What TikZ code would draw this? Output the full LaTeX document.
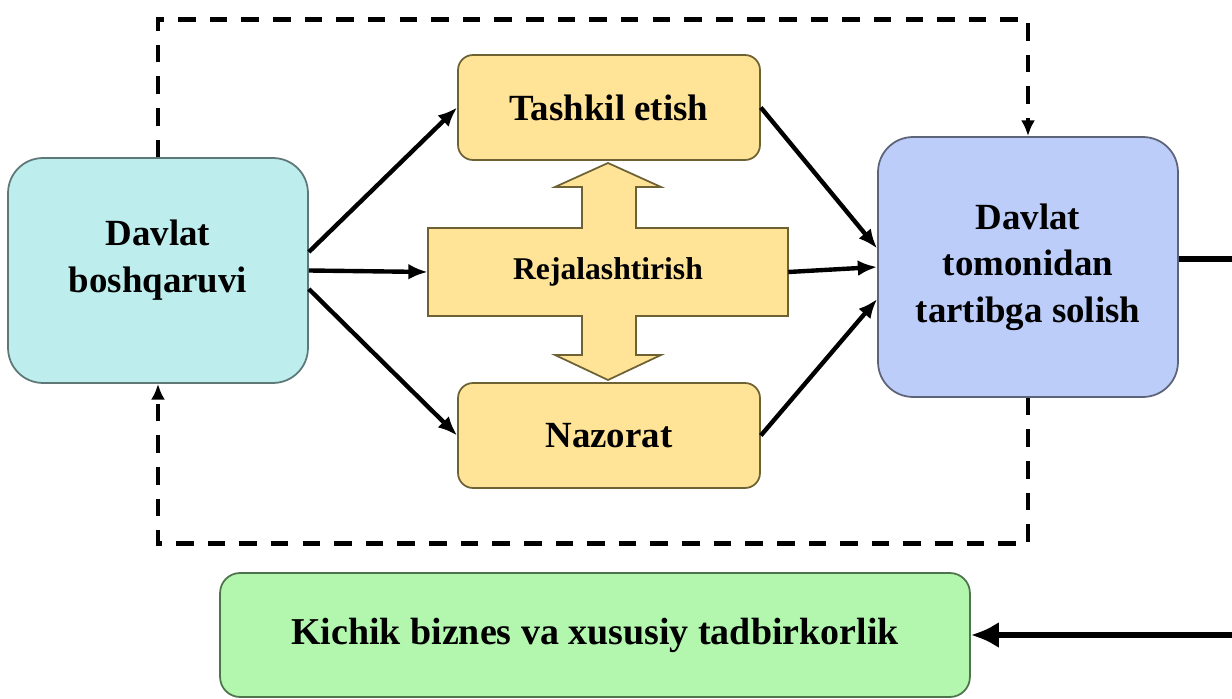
\documentclass[tikz,border=0pt]{standalone}
\usepackage{fontspec}
\setmainfont{Liberation Serif}
\usepackage{tikz}
\usetikzlibrary{shapes.misc, positioning, calc, arrows.meta}
\definecolor{cyanbox}{HTML}{BDEDED}
\definecolor{cyanline}{HTML}{5E7878}
\definecolor{goldbox}{HTML}{FFE497}
\definecolor{goldline}{HTML}{6E6235}
\definecolor{bluebox}{HTML}{BDCDF9}
\definecolor{blueline}{HTML}{5D6378}
\definecolor{greenbox}{HTML}{B3F7AF}
\definecolor{greenline}{HTML}{4E744B}
\tikzstyle{bigbox} = [rectangle, rounded corners=0.7cm,
line width=1pt, align=center,
font=\bfseries\fontsize{21}{26.5}\selectfont]
\tikzstyle{stepbox} = [rectangle, rounded corners=0.3cm,
line width=1pt, draw=goldline, fill=goldbox,
minimum width = 6.04cm, minimum height = 2.1cm,
font=\bfseries\fontsize{21}{26}\selectfont]
\tikzstyle{flow} = [line width=2.5pt, -{Latex[length=11pt, width=9pt]}]
\tikzstyle{loop} = [line width=2.8pt, dash pattern=on 10pt off 8pt,
-{Latex[length=9pt, width=8pt]}]

\begin{document}
\begin{tikzpicture}[x=0.02cm, y=-0.02cm]
	\useasboundingbox (0, 0) rectangle (1232, 699);
	\coordinate (a) at (158, 270.5);
	\coordinate (b) at (609, 107.5);
	\coordinate (c) at (608, 272);
	\coordinate (d) at (609, 435.5);
	\coordinate (e) at (1028, 267);
	\coordinate (f) at (595, 635);
	%% Planning cross with the double arrow
	\filldraw[draw=goldline, fill=goldbox, line width=1pt]
		(428, 228) -- (582, 228) -- (582, 187) -- (555, 187) -- (608, 163)
		-- (661, 187) -- (636, 187) -- (636, 228) -- (788, 228)
		-- (788, 316) -- (636, 316) -- (636, 355) -- (661, 355)
		-- (608, 380) -- (555, 355) -- (582, 355) -- (582, 316)
		-- (428, 316) -- cycle;
	\node[font=\bfseries\fontsize{18}{22}\selectfont,
		minimum width=7.2cm, minimum height=1.8cm] (rej) at (c) {Rejalashtirish};
	\node[bigbox, draw=cyanline, fill=cyanbox,
		minimum width=6cm, minimum height=4.5cm] (boshq) at (a)
		{Davlat\\boshqaruvi\\[-10pt]\mbox{}};
	\node[stepbox] (tashkil) at (b) {Tashkil etish};
	\node[stepbox] (nazorat) at (d) {Nazorat};
	\node[bigbox, draw=blueline, fill=bluebox,
		minimum width=6cm, minimum height=5.2cm] (tomon) at (e)
		{Davlat\\tomonidan\\tartibga solish};
	\node[bigbox, rounded corners=0.4cm, draw=greenline, fill=greenbox,
		minimum width=15cm, minimum height=2.48cm,
		font=\bfseries\fontsize{21.6}{26}\selectfont] (kichik) at (f)
		{Kichik biznes va xususiy tadbirkorlik};
	%% Management to the three functions
	\draw[flow] (boshq.7) -- (tashkil.west);
	\draw[flow] (boshq.east) -- (rej.west);
	\draw[flow] (boshq.-7) -- (nazorat.west);
	%% Functions to regulation
	\draw[flow] (tashkil.east) -- (tomon.173);
	\draw[flow] (rej.east) -- (tomon.west);
	\draw[flow] (nazorat.east) -- (tomon.192);
	%% Feedback loops
	\draw[loop] (boshq.north) -- ++(0, -138) -| (tomon.north);
	\draw[loop] (tomon.south) -- ++(0, 146) -| (boshq.south);
	%% Regulation to small business
	\draw[line width=3.6pt, -{Latex[length=16pt, width=15pt]}]
		(tomon.3) -- ++(56, 0) |- (kichik.east);
\end{tikzpicture}
\end{document}
